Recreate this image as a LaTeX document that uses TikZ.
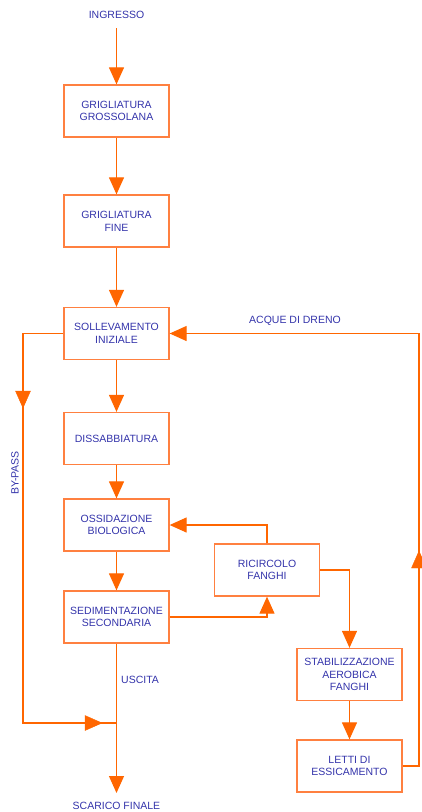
\documentclass[tikz,border=0pt]{standalone}
\usepackage{fontspec}
\setmainfont{Liberation Sans}
\usetikzlibrary{arrows.meta,positioning}
\definecolor{lineor}{RGB}{255,102,0}
\definecolor{boxor}{RGB}{255,128,64}
\definecolor{txt}{RGB}{51,51,170}
\tikzset{
  proc/.style={draw=boxor,line width=1.3pt,minimum width=105pt,minimum height=52pt,inner sep=0pt,align=center,text=txt,font=\fontsize{10.5}{12.7}\selectfont},
  lbl/.style={text=txt,font=\fontsize{10.5}{12.7}\selectfont,inner sep=0pt},
  flow/.style={draw=lineor,line width=1.2pt,-{Triangle[width=15pt,length=17pt]}},
  plain/.style={draw=lineor,line width=1.2pt},
  midarr/.style={draw=lineor,fill=lineor}
}
\begin{document}
\begin{tikzpicture}[x=1pt,y=-1pt]
\useasboundingbox (0,0) rectangle (421,812);
\node[lbl] (ing) at (116.5,15) {INGRESSO};
\node[proc] (gg) at (116.5,111) {GRIGLIATURA\\GROSSOLANA};
\node[proc] (gf) at (116.5,221) {GRIGLIATURA\\FINE};
\node[proc] (si) at (116.5,333.5) {SOLLEVAMENTO\\INIZIALE};
\node[proc] (di) at (116.5,438.5) {DISSABBIATURA};
\node[proc] (ob) at (116.5,525) {OSSIDAZIONE\\BIOLOGICA};
\node[proc] (ss) at (116.5,617) {SEDIMENTAZIONE\\SECONDARIA};
\node[proc] (rf) at (267,570) {RICIRCOLO\\FANGHI};
\node[proc] (sa) at (349.5,674.5) {STABILIZZAZIONE\\AEROBICA\\FANGHI};
\node[proc] (le) at (349.5,766) {LETTI DI\\ESSICAMENTO};
\node[lbl] (sf) at (116.5,806) {SCARICO FINALE};
\node[lbl,anchor=west] (usc) at (121,680) {USCITA};
\node[lbl] (adr) at (295,321) {ACQUE DI DRENO};
\node[lbl,rotate=90] (byp) at (15,473) {BY-PASS};
\coordinate (ingb) at (116.5,28);
\coordinate (sfe) at (116.5,793);
\coordinate (bp1) at (23,333.5);
\coordinate (bp2) at (23,723);
\coordinate (join) at (116.5,723);
\coordinate (dr1) at (419,766);
\coordinate (dr2) at (419,333.5);
% main chain
\draw[flow] (ingb) -- (gg.north);
\draw[flow] (gg) -- (gf.north);
\draw[flow] (gf) -- (si.north);
\draw[flow] (si) -- (di.north);
\draw[flow] (di) -- (ob.north);
\draw[flow] (ob) -- (ss.north);
\draw[flow] (ss.south) -- (sfe);
% bypass
\draw[plain] (si.west) -- (bp1) -- (bp2) -- (join);
\fill[midarr] (23,408) -- (15.5,391) -- (30.5,391) -- cycle;
\fill[midarr] (102,723) -- (85,715.5) -- (85,730.5) -- cycle;
% ricircolo
\draw[flow] (rf.north) |- (ob.east);
\draw[flow] (ss.east) -| (rf.south);
\draw[flow] (rf.east) -| (sa.north);
\draw[flow] (sa) -- (le.north);
% acque di dreno
\draw[flow] (le.east) -- (dr1) -- (dr2) -- (si.east);
\fill[midarr] (419,551) -- (411.5,568) -- (426.5,568) -- cycle;
\end{tikzpicture}
\end{document}
